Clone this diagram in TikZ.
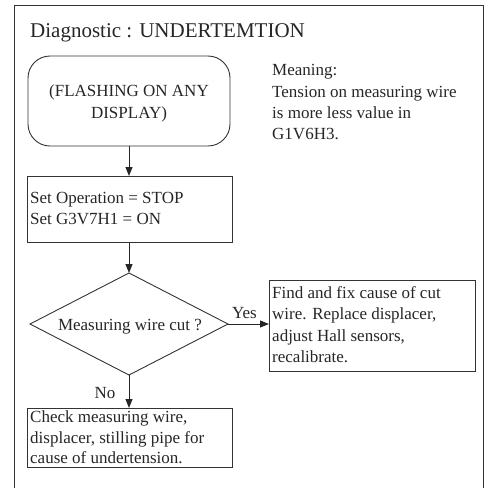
\documentclass[tikz,border=0pt]{standalone}
\usepackage{fontspec}
\setmainfont{Liberation Serif}
\usetikzlibrary{shapes.geometric,arrows.meta}
\begin{document}
\begin{tikzpicture}[x=1pt,y=-1pt,
  line/.style={draw=black!80,line width=0.9pt},
  conn/.style={draw=black!85,line width=1pt,-{Triangle[length=9pt,width=7pt]}},
  txt/.style={font=\fontsize{17}{21.3}\selectfont,text=black!85,inner sep=0pt},
  boxl/.style={line,rectangle,anchor=north west,inner sep=0pt}]
\useasboundingbox (0,0) rectangle (492,488);
\draw[line] (14,488) -- (14,5) -- (483,5) -- (483,488);
\node[txt,font=\fontsize{21}{25}\selectfont,anchor=base west] (title) at (30,37) {Diagnostic : UNDERTEMTION};
% start
\node[line,rounded corners=22pt,minimum width=202pt,minimum height=90pt,inner sep=0pt] (start) at (129,101) {};
\node[txt,align=center,anchor=north] (starttxt) at (129,84.7) {(FLASHING ON ANY\\DISPLAY)};
% meaning
\node[txt,align=left,anchor=north west] (meaning) at (272,64.5) {Meaning:\\Tension on measuring wire\\is more less value in\\G1V6H3.};
% box 2
\node[boxl,minimum width=205pt,minimum height=66pt] (set) at (27,176) {};
\node[txt,align=left,anchor=north west] (settxt) at (30,191.7) {Set Operation = STOP\\Set G3V7H1 = ON};
% diamond
\coordinate (dtop) at (129,273);
\coordinate (dright) at (228,324);
\coordinate (dbot) at (129,375);
\coordinate (dleft) at (30,324);
\draw[line] (dtop) -- (dright) -- (dbot) -- (dleft) -- cycle;
\node[txt,anchor=base] (dq) at (130,330) {Measuring wire cut ?};
% yes box
\node[boxl,minimum width=206pt,minimum height=91pt] (yesbox) at (269,280) {};
\node[txt,align=left,anchor=north west] (yestxt) at (272,286.4) {Find and fix cause of cut\\wire. Replace displacer,\\adjust Hall sensors,\\recalibrate.};
% no box
\node[boxl,minimum width=205pt,minimum height=59pt] (nobox) at (27,408) {};
\node[txt,font=\fontsize{17}{20.2}\selectfont,align=left,anchor=north west] (notxt) at (30,410.8) {Check measuring wire,\\displacer, stilling pipe for\\cause of undertension.};
% connectors
\draw[conn] (start.south) -- (set.north -| start.south);
\draw[conn] (set.south -| dtop) -- (dtop);
\draw[conn] (dright) -- (yesbox.west |- dright) node[txt,pos=0.4,above=5pt] (yes) {Yes};
\draw[conn] (dbot) -- (nobox.north -| dbot) node[txt,pos=0.55,left=13pt] (no) {No};
\end{tikzpicture}
\end{document}
